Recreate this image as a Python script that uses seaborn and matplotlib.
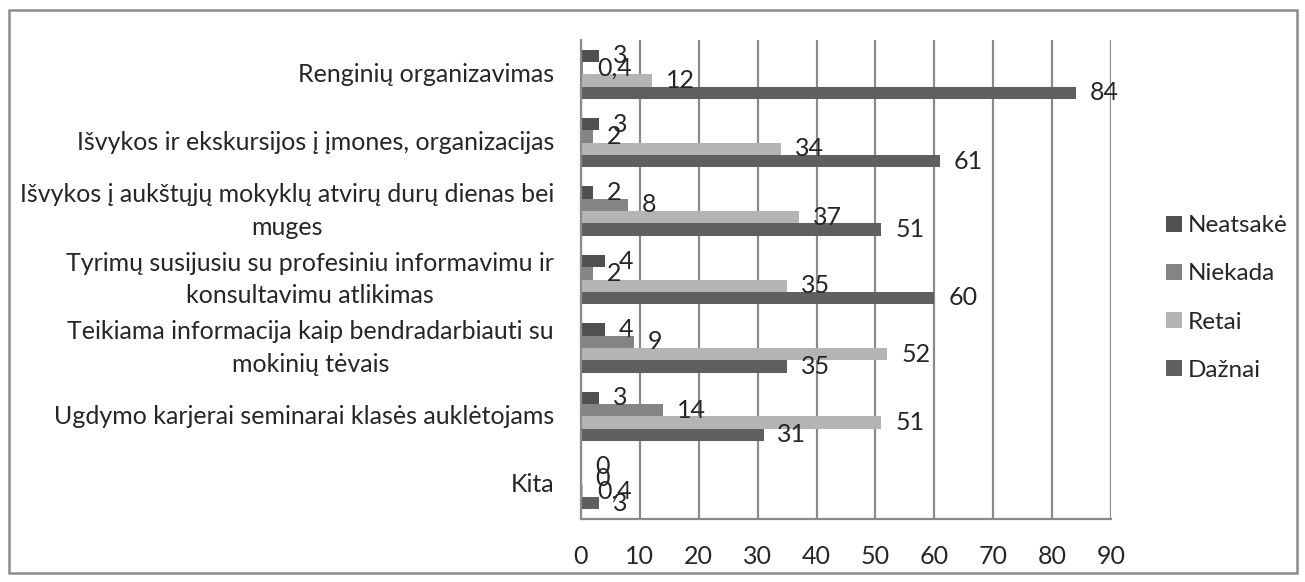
import matplotlib
matplotlib.use("Agg")
import matplotlib.pyplot as plt
import seaborn as sns
import pandas as pd
import numpy as np

categories = [
    "Renginių organizavimas",
    "Išvykos ir ekskursijos į įmones, organizacijas",
    "Išvykos į aukštųjų mokyklų atvirų durų dienas bei\nmuges",
    "Tyrimų susijusiu su profesiniu informavimu ir\nkonsultavimu atlikimas",
    "Teikiama informacija kaip bendradarbiauti su\nmokinių tėvais",
    "Ugdymo karjerai seminarai klasės auklėtojams",
    "Kita",
]
series = ["Neatsakė", "Niekada", "Retai", "Dažnai"]
neatsake = [3, 3, 2, 4, 4, 3, 0]
niekada = [0.4, 2, 8, 2, 9, 14, 0]
retai = [12, 34, 37, 35, 52, 51, 0.4]
daznai = [84, 61, 51, 60, 35, 31, 3]
colors = ["#505050", "#848484", "#b4b4b4", "#5f5f5f"]
xticks = list(range(0, 100, 10))

rows = []
for name, vals in zip(series, [neatsake, niekada, retai, daznai]):
    for cat, v in zip(categories, vals):
        rows.append({"Kategorija": cat, "Atsakymas": name, "Reiksme": v})
df = pd.DataFrame(rows)

fs = 18
sns.set_style("white")
plt.rcParams["font.family"] = ["Lato", "DejaVu Sans"]
plt.rcParams["font.size"] = fs

fig = plt.figure(figsize=(13.05, 5.82), dpi=100)
ax = fig.add_axes([581 / 1305, 1 - 519 / 582, (1111 - 581) / 1305, (519 - 40) / 582])

sns.barplot(data=df, y="Kategorija", x="Reiksme", hue="Atsakymas",
            order=categories, hue_order=series, palette=colors,
            orient="h", width=0.72, gap=0, saturation=1, ax=ax,
            edgecolor="none", linewidth=0, legend=True)

grid_c = "#8a8a8a"
ax.set_xlim(0, 90)
ax.set_ylim(len(categories) - 0.5, -0.5)
ax.set_xticks(xticks)
ax.xaxis.grid(True, color=grid_c, linewidth=1.6)
ax.set_axisbelow(True)
ax.set_xlabel("")
ax.set_ylabel("")
for s in ["top", "right"]:
    ax.spines[s].set_visible(False)
for s in ["left", "bottom"]:
    ax.spines[s].set_color(grid_c)
    ax.spines[s].set_linewidth(1.6)

ax.tick_params(axis="x", length=7, width=1.6, color=grid_c, pad=12, labelsize=fs)
ax.tick_params(axis="y", which="major", length=0, pad=19.5, labelsize=fs)
ax.set_yticks(np.arange(-0.5, len(categories), 1.0), minor=True)
ax.tick_params(axis="y", which="minor", length=7, width=1.6, color=grid_c)
for lbl in ax.get_yticklabels():
    lbl.set_multialignment("center")
    lbl.set_linespacing(1.5)
    lbl.set_verticalalignment("center")

for cont in ax.containers:
    ax.bar_label(cont, fmt=lambda v: f"{v:g}".replace(".", ","), padding=10,
                 fontsize=fs)

handles, labels = ax.get_legend_handles_labels()
ax.legend(handles, labels, loc="center left", bbox_to_anchor=(1166 / 1305, 1 - 298 / 582),
          bbox_transform=fig.transFigure, frameon=False, borderpad=0, borderaxespad=0,
          handlelength=0.65, handleheight=0.65, handletextpad=0.25, labelspacing=1.12,
          fontsize=17.5)

border = plt.Rectangle((9 / 1305, 1 - 573 / 582), (1297 - 9) / 1305, (573 - 10) / 582,
                       transform=fig.transFigure, fill=False, edgecolor="#8c8c8c",
                       linewidth=1.8)
fig.patches.append(border)

fig.savefig("out.png", dpi=100)
